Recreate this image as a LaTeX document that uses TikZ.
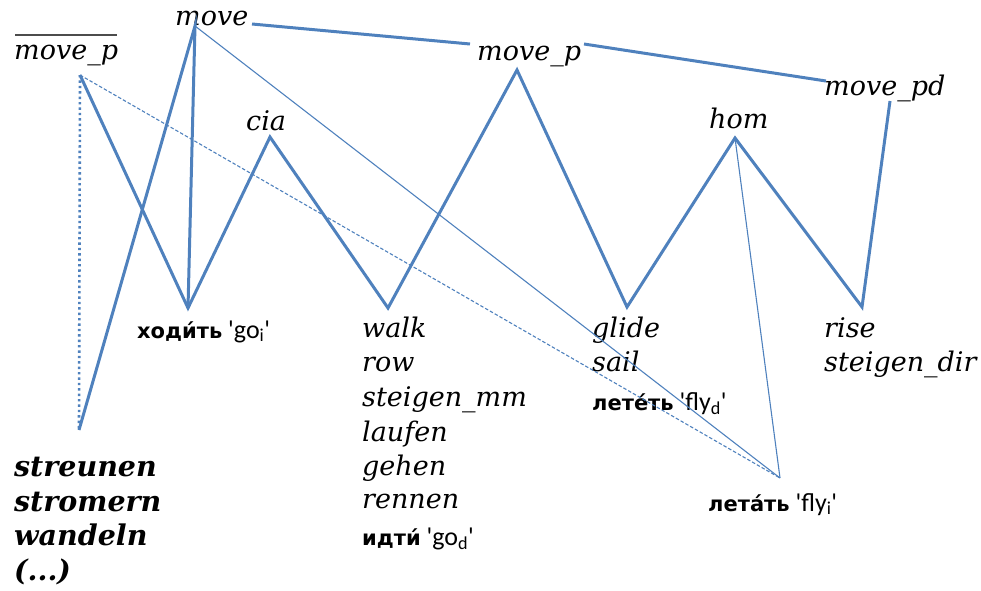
\documentclass[tikz,border=0pt]{standalone}
\usepackage{fontspec}
\setmainfont{DejaVu Serif}
\newfontfamily\cyr{Carlito}
\newfontfamily\cyrb{DejaVu Sans}
\newcommand{\rw}[1]{{\cyrb\bfseries\fontsize{21}{25}\selectfont #1}}
\definecolor{lnblue}{RGB}{79,129,189}
\begin{document}
\begin{tikzpicture}[x=1pt,y=-1pt,
  thickln/.style={draw=lnblue,line width=3pt,line join=miter},
  thinln/.style={draw=lnblue,line width=1.1pt},
  dashln/.style={draw=lnblue,line width=1.1pt,dash pattern=on 3.5pt off 2pt},
  dotln/.style={draw=lnblue,line width=2.6pt,dash pattern=on 2.4pt off 3pt},
  lab/.style={inner sep=0pt,anchor=base west,font=\fontsize{27}{32}\selectfont\itshape},
  blab/.style={inner sep=0pt,anchor=base west,font=\fontsize{28.5}{33}\selectfont\bfseries\itshape},
  clab/.style={inner sep=0pt,anchor=base west,font=\fontsize{26}{30}\selectfont\cyr}]
\useasboundingbox (0,0) rectangle (981,590);
% labels
\node[lab] (tmove) at (175,25) {move};
\node[lab] (tmovepbar) at (14,59) {move\_p};
\draw[line width=1.2pt,black!70] (15,35) -- (117,35);
\node[lab] (tcia) at (246,130) {cia};
\node[lab] (tmovep) at (477,60) {move\_p};
\node[lab] (thom) at (709,128) {hom};
\node[lab] (tmovepd) at (824,95) {move\_pd};
\node[clab] (tgoi) at (137,338) {\rw{ходи́ть} 'go\textsubscript{i}'};
\node[lab] (twalk) at (362,337) {walk};
\node[lab] (trow) at (362,371) {row};
\node[lab] (tstmm) at (362,406) {steigen\_mm};
\node[lab] (tlauf) at (362,441) {laufen};
\node[lab] (tgeh) at (362,475) {gehen};
\node[lab] (trenn) at (362,508) {rennen};
\node[clab] (tgod) at (362,545) {\rw{идти́} 'go\textsubscript{d}'};
\node[lab] (tglide) at (592,337) {glide};
\node[lab] (tsail) at (592,371) {sail};
\node[clab] (tflyd) at (592,410) {\rw{лете́ть} 'fly\textsubscript{d}'};
\node[lab] (trise) at (824,337) {rise};
\node[lab] (tstdir) at (824,371) {steigen\_dir};
\node[clab] (tflyi) at (708,511) {\rw{лета́ть} 'fly\textsubscript{i}'};
\node[blab] (tstr) at (14,476) {streunen};
\node[blab] (tstrom) at (14,511) {stromern};
\node[blab] (twand) at (14,545) {wandeln};
\node[blab] (tdots) at (14,580) {(...)};
% anchor points
\coordinate (pmove) at (195,26);
\coordinate (pbar) at (80,75);
\coordinate (pbot) at (79,430);
\coordinate (pgoi) at (188,308);
\coordinate (pcia) at (270,137);
\coordinate (pwalk) at (388,308);
\coordinate (pmovep) at (517,70);
\coordinate (pglide) at (627,307);
\coordinate (phom) at (735,138);
\coordinate (prise) at (862,307);
\coordinate (pmovepd) at (890,101);
\coordinate (pflyi) at (780,478);
\coordinate (e1) at (252,24);
\coordinate (e2) at (470,44);
\coordinate (e3) at (584,44);
\coordinate (e4) at (826,81);
% lines
\draw[thickln] (e1) -- (e2);
\draw[thickln] (e3) -- (e4);
\draw[dotln] (pbar) -- (pbot);
\draw[dashln] (pbar) -- (pflyi);
\draw[thinln] (pmove) -- (pflyi);
\draw[thinln] (phom) -- (pflyi);
\draw[thickln] (pbot) -- (pmove) -- (pgoi);
\draw[thickln] (pbar) -- (pgoi) -- (pcia) -- (pwalk) -- (pmovep) -- (pglide) -- (phom) -- (prise) -- (pmovepd);
\end{tikzpicture}
\end{document}
